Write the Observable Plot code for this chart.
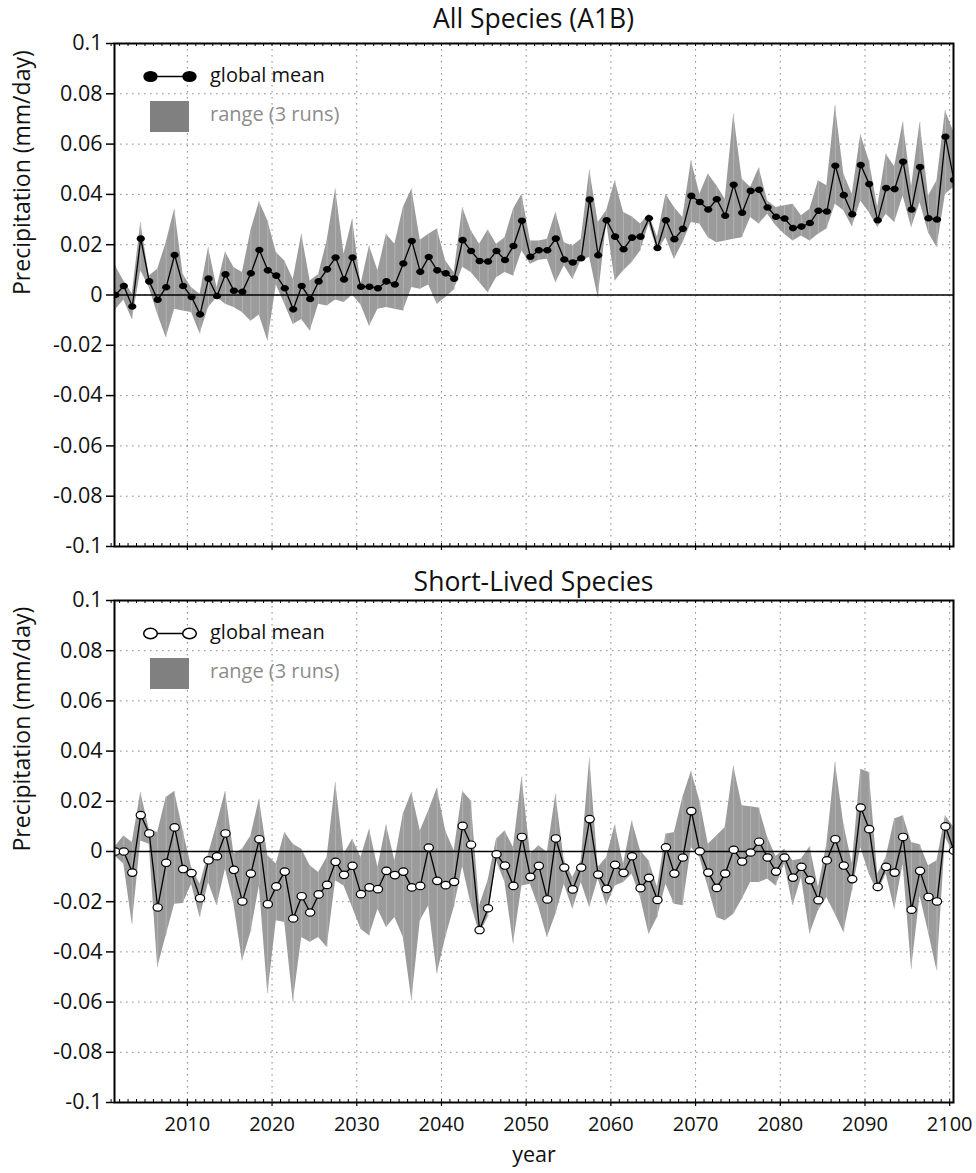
<!DOCTYPE html>
<html>
<head>
<meta charset="utf-8">
<script src="https://cdn.jsdelivr.net/npm/d3@7"></script>
<script src="https://cdn.jsdelivr.net/npm/@observablehq/plot@0.6"></script>
<style>
  body { margin: 0; background: #fff; font-family: "Open Sans", sans-serif; }
  #wrap { position: relative; width: 976px; height: 1173px; overflow: hidden; }
  #wrap svg.plotsvg { position: absolute; left: 0; }
  .title { position: absolute; left: 114px; width: 839px; text-align: center; font-size: 26.5px; line-height: 30px; color: #111; }
  .legtxt { position: absolute; font-size: 20px; line-height: 24px; white-space: nowrap; }
</style>
</head>
<body>
<div id="wrap"></div>
<script>
// ---------- data ----------
const years = d3.range(2001, 2101);
const xTicks = [2010, 2020, 2030, 2040, 2050, 2060, 2070, 2080, 2090, 2100];
const yTicks = [-0.1, -0.08, -0.06, -0.04, -0.02, 0, 0.02, 0.04, 0.06, 0.08, 0.1];
const panelTitles = ["All Species (A1B)", "Short-Lived Species"];
const yLabel = "Precipitation (mm/day)";
const xLabel = "year";
const legendLabels = ["global mean", "range (3 runs)"];

// All Species (A1B)
const allMean = [0.000,0.0036,-0.0046,0.0224,0.0054,-0.0019,0.0031,0.0159,0.0036,-0.0008,
  -0.0077,0.0065,-0.0004,0.0082,0.0017,0.0013,0.0086,0.0179,0.0098,0.0077,
  0.0027,-0.0057,0.0036,-0.0016,0.0054,0.0102,0.0149,0.0062,0.0149,0.0033,
  0.0033,0.0027,0.0054,0.0042,0.0125,0.0215,0.0092,0.0151,0.0098,0.0086,
  0.0065,0.0218,0.0175,0.0135,0.0133,0.0175,0.0139,0.0195,0.0295,0.0152,
  0.0178,0.0178,0.0224,0.0141,0.0129,0.0146,0.038,0.0158,0.0297,0.0232,
  0.0182,0.0228,0.0232,0.0305,0.0187,0.0297,0.0222,0.0263,0.0394,0.037,
  0.034,0.0381,0.0315,0.0438,0.0327,0.0414,0.0418,0.0348,0.0311,0.0304,
  0.0266,0.0272,0.0286,0.0335,0.0332,0.0514,0.0397,0.0321,0.0517,0.0441,
  0.0297,0.0425,0.0421,0.053,0.034,0.0509,0.0305,0.03,0.0629,0.0457];
const allHi = [0.0116,0.0056,0.0005,0.0288,0.0076,0.0102,0.0208,0.0341,0.0082,0.0029,
  0.0003,0.0189,0.0029,0.0171,0.0109,0.0089,0.0255,0.0371,0.0295,0.0169,
  0.0135,0.0062,0.0242,0.0056,0.0082,0.0215,0.0421,0.0162,0.0301,0.004,
  0.0195,0.0096,0.0242,0.0202,0.0348,0.0421,0.0218,0.0242,0.0262,0.0135,
  0.0089,0.0348,0.0255,0.0202,0.0258,0.0202,0.0228,0.0341,0.0401,0.0215,
  0.0215,0.0222,0.0328,0.0208,0.0195,0.0222,0.0497,0.0288,0.0335,0.0454,
  0.0328,0.0311,0.0282,0.0321,0.023,0.0401,0.0348,0.0308,0.0534,0.0401,
  0.0481,0.0434,0.0381,0.072,0.046,0.0428,0.0505,0.0374,0.0348,0.0355,
  0.0361,0.0315,0.0341,0.0454,0.0434,0.0753,0.048,0.0401,0.0637,0.0534,
  0.0348,0.056,0.051,0.0687,0.0428,0.0687,0.0394,0.0454,0.0733,0.0647];
const allLo = [-0.006,-0.002,-0.0097,0.0096,0.003,-0.0077,-0.017,-0.0057,-0.0064,-0.007,
  -0.0154,-0.005,-0.001,-0.0037,-0.005,-0.007,-0.0104,-0.008,-0.0183,0.004,
  -0.0037,-0.0117,-0.0097,-0.0143,-0.0037,-0.0044,-0.002,-0.003,0.0,-0.004,
  -0.0124,-0.0057,-0.005,-0.0057,-0.0064,0.003,0.0023,0.004,-0.0037,-0.001,
  0.002,0.011,0.0089,0.005,0.0009,0.0069,0.0089,0.0076,0.0175,0.0122,
  0.0138,0.0142,0.0049,0.0116,0.0062,0.0138,0.0149,-0.0011,0.0288,0.0056,
  0.0096,0.0129,0.0175,0.0282,0.0175,0.0228,0.0142,0.0208,0.0288,0.0282,
  0.0228,0.0208,0.0215,0.0222,0.0228,0.0308,0.0282,0.0321,0.0275,0.0242,
  0.0215,0.0235,0.0215,0.0242,0.0262,0.0361,0.0335,0.0271,0.0374,0.0328,
  0.0268,0.0321,0.0288,0.0394,0.0268,0.0368,0.0248,0.0189,0.0401,0.0428];

// Short-Lived Species
const slMean = [0.000,0.000,-0.0084,0.0145,0.0072,-0.0223,-0.0045,0.0096,-0.007,-0.0086,
  -0.0186,-0.0035,-0.0019,0.0072,-0.0073,-0.0199,-0.0088,0.0049,-0.021,-0.0139,
  -0.008,-0.0267,-0.0178,-0.0243,-0.0171,-0.0133,-0.0041,-0.0093,-0.0057,-0.017,
  -0.0143,-0.015,-0.0077,-0.0094,-0.008,-0.0143,-0.0137,0.0016,-0.0117,-0.0134,
  -0.0121,0.0102,0.0027,-0.0313,-0.0226,-0.0011,-0.0056,-0.0137,0.0058,-0.0101,
  -0.0057,-0.0191,0.0052,-0.0064,-0.0151,-0.0064,0.0129,-0.0092,-0.0149,-0.0053,
  -0.0085,-0.0019,-0.0146,-0.0105,-0.0193,0.0017,-0.0088,-0.0024,0.0161,0.0001,
  -0.0084,-0.0145,-0.0088,0.0007,-0.004,-0.0004,0.0039,-0.0024,-0.008,-0.0024,
  -0.0104,-0.0061,-0.0114,-0.0194,-0.0035,0.0049,-0.0056,-0.011,0.0175,0.0089,
  -0.0141,-0.0061,-0.0084,0.0058,-0.0232,-0.0077,-0.0181,-0.0199,0.01,0.0003];
const slHi = [0.002,0.0062,0.0036,0.0235,0.0089,0.0076,0.0215,0.0239,0.0082,-0.0064,
  -0.013,-0.001,0.0109,0.0239,-0.001,0.0009,0.0062,0.0208,-0.0017,-0.005,
  0.0076,0.0029,0.0009,-0.0057,-0.0084,-0.0024,0.0275,-0.001,0.0049,-0.0024,
  0.0089,-0.0064,0.0106,-0.0037,0.0149,0.0235,0.0082,0.0162,0.0252,0.0082,
  0.0003,0.0239,0.0202,-0.0216,-0.0117,0.0049,0.0082,0.0016,0.0297,-0.001,
  0.0023,-0.0004,0.0228,-0.0037,-0.0104,-0.0037,0.0372,-0.0064,-0.0024,0.0106,
  -0.005,0.0122,0.0003,-0.0037,-0.0143,0.0069,0.0076,0.0215,0.0319,0.0202,
  0.0029,0.0062,0.0096,0.0341,0.0182,0.0178,0.0173,0.0056,-0.002,0.0009,
  -0.0037,-0.003,0.0019,-0.0143,0.0029,0.0355,0.0109,-0.005,0.0328,0.0315,
  -0.009,-0.0024,0.0129,0.0142,0.0036,0.0027,-0.0057,-0.0037,0.0142,0.0096];
const slLo = [-0.002,-0.005,-0.029,0.0042,0.0029,-0.0462,-0.0336,-0.021,-0.0207,-0.013,
  -0.0263,-0.0124,-0.0216,-0.007,-0.021,-0.0436,-0.0323,-0.0137,-0.0568,-0.0276,
  -0.0283,-0.0601,-0.0343,-0.0362,-0.0343,-0.0382,-0.0117,-0.0137,-0.0223,-0.031,
  -0.0336,-0.023,-0.0303,-0.0263,-0.0343,-0.0594,-0.0276,-0.0216,-0.0488,-0.0343,
  -0.0223,-0.006,-0.021,-0.033,-0.0263,-0.0037,-0.0124,-0.0369,-0.0137,-0.013,
  -0.0223,-0.0343,-0.025,-0.013,-0.023,-0.0124,-0.0223,-0.011,-0.0216,-0.0137,
  -0.0124,-0.009,-0.0183,-0.033,-0.0263,-0.013,-0.021,-0.0216,0.0016,-0.0024,
  -0.0143,-0.0263,-0.0276,-0.025,-0.019,-0.0124,-0.0124,-0.011,-0.0137,-0.005,
  -0.0216,-0.0104,-0.0329,-0.0236,-0.0183,-0.025,-0.0323,-0.0157,0.0016,-0.009,
  -0.0163,-0.009,-0.023,-0.005,-0.0469,-0.0177,-0.0323,-0.0475,0.0056,-0.001];

// ---------- drawing ----------
const W = 976, ML = 114, MR = 23;
const ellipse = {
  draw(ctx, size) {
    const r = Math.sqrt(size / Math.PI), rx = r * 1.25, ry = r, k = 0.5523;
    ctx.moveTo(rx, 0);
    ctx.bezierCurveTo(rx, k * ry, k * rx, ry, 0, ry);
    ctx.bezierCurveTo(-k * rx, ry, -rx, k * ry, -rx, 0);
    ctx.bezierCurveTo(-rx, -k * ry, -k * rx, -ry, 0, -ry);
    ctx.bezierCurveTo(k * rx, -ry, rx, -k * ry, rx, 0);
    ctx.closePath();
  }
};
const fmtY = d => String(+d.toFixed(2));
const gridStyle = {stroke: "#8a8a8a", strokeOpacity: 1, strokeWidth: 1, strokeDasharray: "1.6,4.4"};

function panel({mean, lo, hi, height, marginTop, marginBottom, showX, filled}) {
  const data = years.map((yr, i) => ({t: yr + 0.5, m: mean[i], lo: lo[i], hi: hi[i]}));
  const plotH = height - marginTop - marginBottom;
  const marks = [
    Plot.gridY(yTicks.slice(1, -1), gridStyle),
    Plot.gridX(xTicks, gridStyle),
    Plot.areaY(data, {x: "t", y1: "lo", y2: "hi", fill: "#9b9b9b", clip: true}),
    Plot.ruleX(data, {x: "t", y1: "lo", y2: "hi", stroke: "#bdbdbd", strokeWidth: 0.7, clip: true}),
    Plot.ruleY([0], {stroke: "black", strokeWidth: 1.6}),
    Plot.line(data, {x: "t", y: "m", stroke: "black", strokeWidth: 1.3, clip: true}),
    Plot.dot(data, {x: "t", y: "m", symbol: ellipse, r: filled ? 3.3 : 3.7,
      fill: filled ? "black" : "white", stroke: "black", strokeWidth: filled ? 0 : 1.2, clip: true}),
    Plot.ruleX(years, {x: d => d, insetTop: plotH - 3, stroke: "black", strokeWidth: 1}),
    Plot.ruleX(years, {x: d => d, insetBottom: plotH - 3, stroke: "black", strokeWidth: 1}),
    Plot.axisY(yTicks, {tickSize: 8, tickPadding: 4, tickFormat: fmtY, label: null, fontSize: 21.5, stroke: "black", strokeWidth: 1.5}),
    Plot.axisX(xTicks, {tickSize: 4, tickPadding: 10, tickFormat: showX ? (d => String(d)) : (() => ""), label: null, fontSize: 20, stroke: "black", strokeWidth: 1.2}),
    Plot.frame({stroke: "black", strokeWidth: 2}),
    Plot.text([yLabel], {frameAnchor: "left", dx: -92, rotate: -90, fontSize: 23, fill: "#111"})
  ];
  if (showX) marks.push(Plot.text([xLabel], {frameAnchor: "bottom", dy: 59, fontSize: 21.5, fill: "#111"}));
  const svg = Plot.plot({
    width: W, height, marginLeft: ML, marginRight: MR, marginTop, marginBottom,
    x: {domain: [2001.4, 2100.45]},
    y: {domain: [-0.1, 0.1]},
    style: {fontFamily: "'Open Sans', sans-serif", fontSize: "20px", background: "transparent", overflow: "visible", color: "#111"},
    marks
  });
  svg.classList.add("plotsvg");
  return svg;
}

const wrap = document.getElementById("wrap");
const p1 = panel({mean: allMean, lo: allLo, hi: allHi, height: 540, marginTop: 13, marginBottom: 24, showX: false, filled: true});
p1.style.top = "30px";
wrap.appendChild(p1);
const p2 = panel({mean: slMean, lo: slLo, hi: slHi, height: 585, marginTop: 12, marginBottom: 71, showX: true, filled: false});
p2.style.top = "588px";
wrap.appendChild(p2);

// titles
[[panelTitles[0], 3], [panelTitles[1], 566]].forEach(([t, top]) => {
  const d = document.createElement("div");
  d.className = "title"; d.textContent = t; d.style.top = top + "px";
  wrap.appendChild(d);
});

// legends
function legend(offsetY, filled) {
  const ns = "http://www.w3.org/2000/svg";
  const s = document.createElementNS(ns, "svg");
  s.setAttribute("width", 70); s.setAttribute("height", 75);
  s.style.position = "absolute"; s.style.left = "135px"; s.style.top = (offsetY + 60) + "px";
  const fill = filled ? "black" : "white";
  s.innerHTML =
    `<line x1="15" y1="16.5" x2="54" y2="16.5" stroke="black" stroke-width="1.6"/>` +
    `<ellipse cx="15.5" cy="16.5" rx="${filled ? 7.2 : 6.8}" ry="${filled ? 5.6 : 5.2}" fill="${fill}" stroke="black" stroke-width="${filled ? 0 : 1.5}"/>` +
    `<ellipse cx="54.5" cy="16.5" rx="${filled ? 7.2 : 6.8}" ry="${filled ? 5.6 : 5.2}" fill="${fill}" stroke="black" stroke-width="${filled ? 0 : 1.5}"/>` +
    `<rect x="15" y="41" width="39" height="31" fill="#808080"/>`;
  wrap.appendChild(s);
  const t1 = document.createElement("div");
  t1.className = "legtxt"; t1.textContent = legendLabels[0];
  t1.style.left = "210px"; t1.style.top = (offsetY + 63) + "px"; t1.style.color = "#111";
  wrap.appendChild(t1);
  const t2 = document.createElement("div");
  t2.className = "legtxt"; t2.textContent = legendLabels[1];
  t2.style.left = "210px"; t2.style.top = (offsetY + 102) + "px"; t2.style.color = "#8c8c8c";
  wrap.appendChild(t2);
}
legend(0, true);
legend(557, false);
</script>
</body>
</html>
